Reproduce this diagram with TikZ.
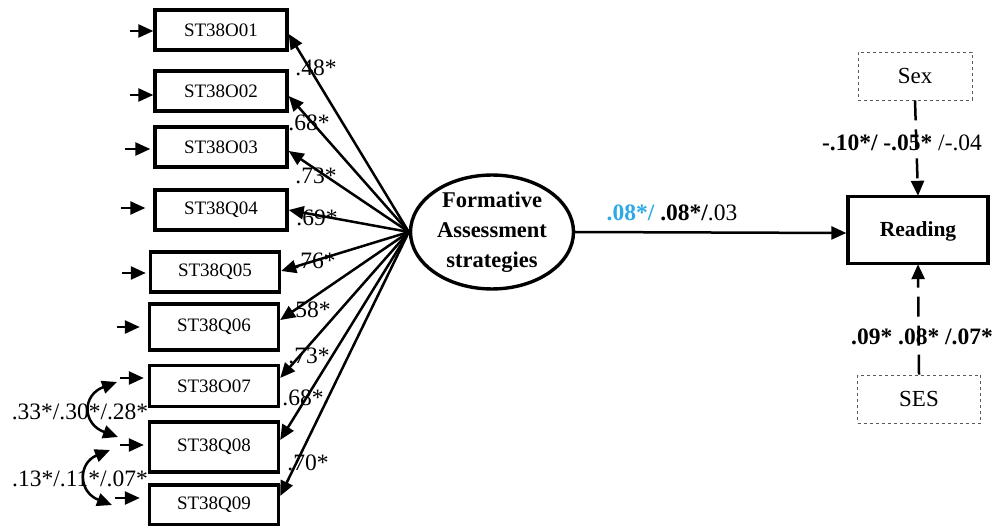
\documentclass[tikz,border=0pt]{standalone}
\usepackage{fontspec}
\setmainfont{Liberation Serif}
\usetikzlibrary{arrows.meta,calc,shapes.geometric}
\definecolor{lblue}{RGB}{45,170,230}
\begin{document}
\begin{tikzpicture}[x=1pt,y=-1pt,
  item/.style={draw, line width=3.4pt, minimum width=#1, inner sep=0pt, font=\fontsize{19}{22}\selectfont},
  item/.default=132pt,
  tip/.style={-{Triangle[length=15pt,width=13pt]}},
  load/.style={tip, line width=2.5pt},
  resid/.style={tip, line width=2.5pt},
  lab/.style={font=\fontsize{23.5}{26}\selectfont, inner sep=0pt},
  ctrl/.style={draw=gray!70!black, dashed, line width=0.9pt, minimum width=#1, minimum height=48pt, text=black, font=\fontsize{23}{26}\selectfont},
]
\useasboundingbox (0,0) rectangle (1003,526);

% indicator boxes
\node[item, minimum height=40pt] (b1) at (221,30) {ST38O01};
\node[item, minimum height=40pt] (b2) at (221,91) {ST38O02};
\node[item, minimum height=40pt] (b3) at (221,147) {ST38O03};
\node[item, minimum height=40pt] (b4) at (221,210) {ST38Q04};
\node[item=129pt, minimum height=40pt] (b5) at (215,272) {ST38Q05};
\node[item=129pt, minimum height=46pt] (b6) at (214,327) {ST38Q06};
\node[item=129pt, minimum height=41pt] (b7) at (214,386) {ST38O07};
\node[item=129pt, minimum height=50pt] (b8) at (214,447) {ST38Q08};
\node[item=129pt, minimum height=40pt] (b9) at (214,505) {ST38Q09};

% latent
\node[draw, ellipse, line width=3.4pt, minimum width=163pt, minimum height=109pt, inner sep=0pt, align=center,
  font=\fontsize{22.5}{30}\selectfont\bfseries] (F) at (492,232) {Formative\\Assessment\\strategies};

% outcome and controls
\node[draw, line width=3.4pt, minimum width=140pt, minimum height=67pt, text depth=2pt, font=\fontsize{21.5}{24}\selectfont\bfseries] (R) at (918,230) {Reading};
\node[ctrl=114pt] (sex) at (915,76) {Sex};
\node[ctrl=123pt] (ses) at (919,399) {SES};

% residual coordinates
\coordinate (r1) at (130,31);
\coordinate (r2) at (130,95);
\coordinate (r3) at (125,149);
\coordinate (r4) at (121,208);
\coordinate (r5) at (122,273);
\coordinate (r6) at (117,327);
\coordinate (r7) at (120,378);
\coordinate (r8) at (120,445);
\coordinate (r9) at (115,498);
\draw[resid] (r1) -- ($(b1.west)+(0,1)$);
\draw[resid] (r2) -- ($(b2.west)+(0,4)$);
\draw[resid] (r3) -- ($(b3.west)+(-3,2)$);
\draw[resid] (r4) -- ($(b4.west)+(-8,-2)$);
\draw[resid] (r5) -- ($(b5.west)+(-3,1)$);
\draw[resid] (r6) -- ($(b6.west)+(-8,0)$);
\draw[resid] (r7) -- ($(b7.west)+(-4,-8)$);
\draw[resid] (r8) -- ($(b8.west)+(-4,-2)$);
\draw[resid] (r9) -- ($(b9.west)+(-8,-7)$);

% loadings
\draw[load] (F.west) -- ($(b1.east)+(0,4)$);
\draw[load] (F.west) -- ($(b2.east)+(0,5)$);
\draw[load] (F.west) -- ($(b3.east)+(0,4)$);
\draw[load] (F.west) -- ($(b4.east)+(0,0)$);
\draw[load] (F.west) -- ($(b5.east)+(0,-1)$);
\draw[load] (F.west) -- ($(b6.east)+(0,-7)$);
\draw[load] (F.west) -- ($(b7.east)+(0,-8)$);
\draw[load] (F.west) -- ($(b8.east)+(0,-7)$);
\draw[load] (F.west) -- ($(b9.east)+(0,-9)$);

\node[lab] (l1) at (316,68) {.48*};
\node[lab] (l2) at (309,123) {.68*};
\node[lab] (l3) at (316,176) {.73*};
\node[lab] (l4) at (317,218) {.69*};
\node[lab] (l5) at (315,261) {.76*};
\node[lab] (l6) at (310,310) {.58*};
\node[lab] (l7) at (309,356) {.73*};
\node[lab] (l8) at (303,398) {.68*};
\node[lab] (l9) at (308,463) {.70*};

% covariances
\coordinate (c1a) at (117,382);
\coordinate (c1b) at (118,437);
\coordinate (c2a) at (110,450);
\coordinate (c2b) at (112,505);
\draw[{Triangle[length=15pt,width=13pt]}-{Triangle[length=15pt,width=13pt]}, line width=2.5pt]
  (c1a) .. controls (82,395) and (82,424) .. (c1b);
\draw[{Triangle[length=15pt,width=13pt]}-{Triangle[length=15pt,width=13pt]}, line width=2.5pt]
  (c2a) .. controls (78,463) and (78,492) .. (c2b);
\node[lab] (cv1) at (80,412) {.33*/.30*/.28*};
\node[lab] (cv2) at (80,479) {.13*/.11*/.07*};

% structural path
\draw[load] (F.east) -- ($(R.west)+(0,3)$);
\node[lab] (pm) at (672,213) {\textcolor{lblue}{\bfseries .08*/} \textbf{.08*/}.03};

% control paths
\draw[tip, line width=2.5pt, dash pattern=on 20pt off 9pt] (sex.south) -- ($(R.north)+(0,1)$);
\draw[tip, line width=2.5pt, dash pattern=on 20pt off 9pt] (ses.north) -- ($(R.south)+(0,-1)$);
\node[lab] (ls) at (902,143) {\textbf{-.10*/ -.05*} /-.04};
\node[lab] (le) at (922,337) {\textbf{.09* .08* /.07*}};
\end{tikzpicture}
\end{document}
